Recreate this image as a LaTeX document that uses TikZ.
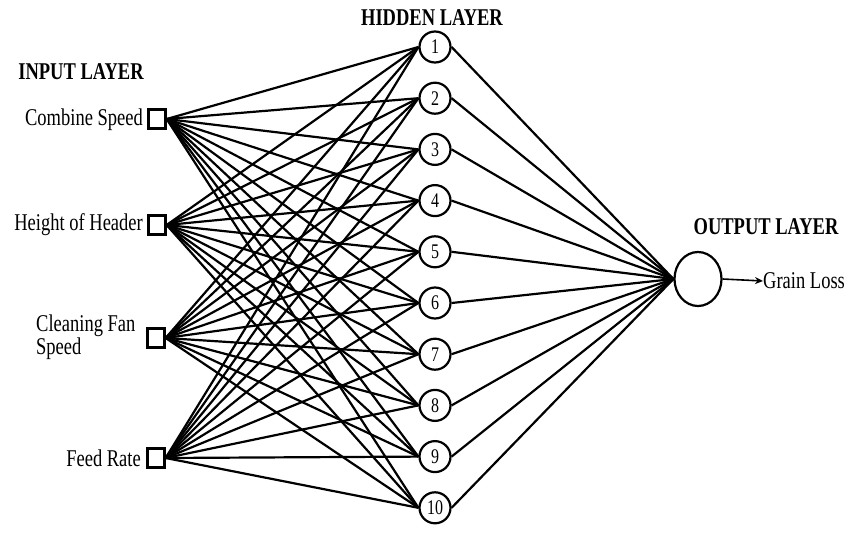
\documentclass[tikz,border=0pt]{standalone}
\usepackage{fontspec}
\usepackage{graphicx}
\setmainfont{Liberation Serif}
\usetikzlibrary{arrows.meta,shapes.geometric}
\newcommand{\vst}[1]{\scalebox{1}[1.3]{#1}}
\begin{document}
\begin{tikzpicture}[x=1pt,y=-1pt,
  inbox/.style={draw,line width=2.3pt,minimum width=17pt,minimum height=19pt,inner sep=0pt,fill=white},
  hid/.style={draw,circle,line width=2.2pt,minimum size=31pt,inner sep=0pt,font=\fontsize{16}{18}\selectfont,fill=white},
  outn/.style={draw,ellipse,line width=2.2pt,minimum width=47pt,minimum height=54pt,inner sep=0pt,fill=white},
  lbl/.style={font=\fontsize{18.5}{23}\selectfont,inner sep=0pt},
  head/.style={font=\fontsize{18.5}{23}\selectfont\bfseries,inner sep=0pt},
  conn/.style={line width=2.2pt}]
\useasboundingbox (0,0) rectangle (857,538);
% input nodes
\node[inbox] (i1) at (157,119) {};
\node[inbox] (i2) at (157,225) {};
\node[inbox] (i3) at (156,338) {};
\node[inbox] (i4) at (156,458) {};
% hidden nodes
\foreach \k in {1,...,10}{
  \node[hid] (h\k) at (435,{47+51.2*(\k-1)}) {\vst{\k}};
}
% output
\node[outn] (o) at (698,279) {};
% labels
\node[head] (tin) at (81,72) {\vst{INPUT LAYER}};
\node[head] (thid) at (432,18) {\vst{HIDDEN LAYER}};
\node[head] (tout) at (766,227) {\vst{OUTPUT LAYER}};
\node[lbl,anchor=east] (l1) at (143,120) {\vst{Combine Speed}};
\node[lbl,anchor=east] (l2) at (143,225) {\vst{Height of Header}};
\node[lbl,anchor=west,align=left,font=\fontsize{18.5}{23}\selectfont] (l3) at (36,337) {\vst{Cleaning Fan}\\\vst{Speed}};
\node[lbl,anchor=east] (l4) at (141,458) {\vst{Feed Rate}};
\node[lbl,anchor=west] (gl) at (763,281) {\vst{Grain Loss}};
% connections
\foreach \i in {1,...,4}{
  \foreach \k in {1,...,10}{
    \draw[conn] (i\i.east) -- (h\k.west);
  }
}
\foreach \k in {1,...,10}{
  \draw[conn] (h\k.east) -- (o.west);
}
\draw[line width=1.6pt,-{Stealth[length=8pt,width=7pt]}] (o.east) -- (gl.west);
\end{tikzpicture}
\end{document}
